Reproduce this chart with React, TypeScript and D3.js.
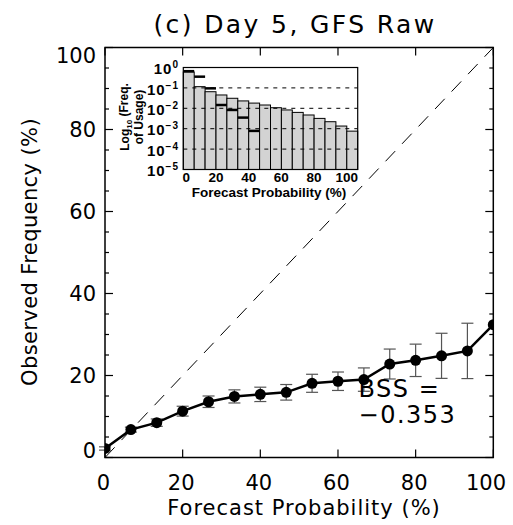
import React from 'react';
import * as d3 from 'd3';

// forecast probability bins (%)
const probs = [0, 6.67, 13.33, 20, 26.67, 33.33, 40, 46.67, 53.33, 60, 66.67, 73.33, 80, 86.67, 93.33, 100];
// observed frequency (%) and half-width of the error bars
const obsFreq = [2.2, 6.8, 8.5, 11.3, 13.6, 14.9, 15.4, 15.9, 18.1, 18.6, 19.0, 22.8, 23.7, 24.8, 26.0, 32.4];
const errHalf = [0.4, 0.6, 0.9, 1.2, 1.4, 1.6, 1.75, 1.9, 2.2, 2.25, 2.85, 3.65, 3.95, 5.5, 6.75, 0];
// frequency of usage (inset), gray bars and black marks
const usage = [0.6, 0.115, 0.065, 0.045, 0.031, 0.023, 0.018, 0.0145, 0.0107, 0.0083, 0.0063, 0.0047, 0.0032, 0.0022, 0.00135, 0.00076];
const usageRef = [0.66, 0.355, 0.095, 0.0145, 0.0083, 0.0035, 0.00078, null, null, null, null, null, null, null, null, null];

const xTicks = [0, 20, 40, 60, 80, 100];
const yTicks = [0, 20, 40, 60, 80, 100];
const insetXTicks = [0, 20, 40, 60, 80, 100];
const insetYExp = [0, -1, -2, -3, -4, -5];
const binWidth = 6.67;

const W = 513;
const H = 525;
const m = { left: 105, right: 493.3, top: 47.5, bottom: 457.5 };
const ins = { left: 183.3, right: 357.7, top: 67.5, bottom: 169.5 };

const mainFont = '"DejaVu Sans", sans-serif';
const insetFont = '"Liberation Sans", Arial, sans-serif';

export default function App() {
  const x = d3.scaleLinear().domain([0, 100]).range([m.left, m.right]);
  const y = d3.scaleLinear().domain([0, 100]).range([m.bottom, m.top]);

  const xi = d3.scaleLinear().domain([0, binWidth * 16]).range([ins.left, ins.right]);
  const yi = d3.scaleLog().domain([1e-5, 1]).range([ins.bottom, ins.top]);

  const line = d3.line<number>()
    .x((d, i) => x(probs[i]))
    .y(d => y(d));

  const minor = d3.range(0, 101, 5);

  return (
    <svg width={W} height={H} style={{ position: 'absolute', left: 0, top: 0, background: '#fff' }}>
      {/* title */}
      <text x={295} y={33} textAnchor="middle" fontFamily={mainFont} fontSize={25} letterSpacing={2.4}>
        (c) Day 5, GFS Raw
      </text>

      {/* perfect reliability line */}
      <line x1={x(0)} y1={y(0)} x2={x(100)} y2={y(100)} stroke="#000" strokeWidth={1} strokeDasharray="14,10" />

      {/* error bars */}
      <g stroke="#555" strokeWidth={1.2}>
        {obsFreq.map((v, i) => errHalf[i] > 0 ? (
          <g key={i}>
            <line x1={x(probs[i])} x2={x(probs[i])} y1={y(v - errHalf[i])} y2={y(v + errHalf[i])} />
            <line x1={x(probs[i]) - 6} x2={x(probs[i]) + 6} y1={y(v - errHalf[i])} y2={y(v - errHalf[i])} />
            <line x1={x(probs[i]) - 6} x2={x(probs[i]) + 6} y1={y(v + errHalf[i])} y2={y(v + errHalf[i])} />
          </g>
        ) : null)}
      </g>

      <path d={line(obsFreq) || ''} fill="none" stroke="#000" strokeWidth={2.5} />
      <defs>
        <clipPath id="plotClip">
          <rect x={m.left} y={m.top} width={m.right - m.left} height={m.bottom - m.top} />
        </clipPath>
      </defs>
      <g clipPath="url(#plotClip)">
        {obsFreq.map((v, i) => (
          <circle key={i} cx={x(probs[i])} cy={y(v)} r={5.5} fill="#000" />
        ))}
      </g>

      {/* main frame and ticks */}
      <rect x={m.left} y={m.top} width={m.right - m.left} height={m.bottom - m.top} fill="none" stroke="#000" strokeWidth={1.5} />
      <g stroke="#000" strokeWidth={1.2}>
        {xTicks.map(t => (
          <g key={t}>
            <line x1={x(t)} x2={x(t)} y1={m.bottom} y2={m.bottom - 8} />
            <line x1={x(t)} x2={x(t)} y1={m.top} y2={m.top + 8} />
          </g>
        ))}
        {minor.map(t => {
          const len = t % 20 === 0 ? 8 : 4;
          return (
            <g key={t}>
              <line x1={m.left} x2={m.left + len} y1={y(t)} y2={y(t)} />
              <line x1={m.right} x2={m.right - len} y1={y(t)} y2={y(t)} />
            </g>
          );
        })}
      </g>

      {/* main tick labels */}
      <g fontFamily={mainFont} fontSize={21}>
        {xTicks.map(t => (
          <text key={t} x={Math.min(x(t) - 1.5, 486)} y={490} textAnchor="middle">{t}</text>
        ))}
        {yTicks.map(t => (
          <text key={t} x={96} y={Math.min(Math.max(y(t), m.top + 8), m.bottom - 7)} dy="0.36em" textAnchor="end">{t}</text>
        ))}
      </g>
      <text x={304} y={515} textAnchor="middle" fontFamily={mainFont} fontSize={21} letterSpacing={1}>
        Forecast Probability (%)
      </text>
      <text transform={`translate(37,252) rotate(-90)`} textAnchor="middle" fontFamily={mainFont} fontSize={21} letterSpacing={0.4}>
        Observed Frequency (%)
      </text>

      {/* BSS annotation */}
      <g fontFamily={mainFont} fontSize={24} letterSpacing={1.5}>
        <text x={x(65.3)} y={397}>BSS =</text>
        <text x={x(65.3)} y={423}>−0.353</text>
      </g>

      {/* inset: frequency of usage */}
      <g>
        {usage.map((v, i) => (
          <rect key={i} x={xi(i * binWidth)} y={yi(v)} width={xi(binWidth) - xi(0)} height={ins.bottom - yi(v)}
            fill="#d3d3d3" stroke="#000" strokeWidth={1} />
        ))}
        {usageRef.map((v, i) => v == null ? null : (
          <line key={i} x1={xi(i * binWidth)} x2={xi((i + 1) * binWidth)} y1={yi(v)} y2={yi(v)} stroke="#000" strokeWidth={2.5} />
        ))}
        {insetYExp.slice(1, 5).map(e => (
          <line key={e} x1={ins.left} x2={ins.right} y1={yi(Math.pow(10, e))} y2={yi(Math.pow(10, e))}
            stroke="#000" strokeWidth={1} strokeDasharray="4,5" />
        ))}
        <rect x={ins.left} y={ins.top} width={ins.right - ins.left} height={ins.bottom - ins.top} fill="none" stroke="#000" strokeWidth={1.2} />
        <g fontFamily={insetFont} fontWeight="bold" fontSize={13.5}>
          {insetXTicks.map(t => (
            <text key={t} x={Math.max(xi(t), ins.left + 3)} y={181.5} textAnchor="middle">{t}</text>
          ))}
          {insetYExp.map(e => (
            <text key={e} x={179} y={yi(Math.pow(10, e))} dy="0.45em" textAnchor="end" fontSize={15} letterSpacing={1}>
              10<tspan dy="-0.6em" fontSize={10}>{e === 0 ? '0' : '−' + Math.abs(e)}</tspan>
            </text>
          ))}
          <text x={269} y={197} textAnchor="middle">Forecast Probability (%)</text>
          <text transform={`translate(129,117) rotate(-90)`} textAnchor="middle" fontSize={12}>
            Log<tspan dy="0.35em" fontSize={8}>10</tspan><tspan dy="-0.35em"> (Freq.</tspan>
          </text>
          <text transform={`translate(143,117) rotate(-90)`} textAnchor="middle" fontSize={12}>
            of Usage)
          </text>
        </g>
      </g>
    </svg>
  );
}
